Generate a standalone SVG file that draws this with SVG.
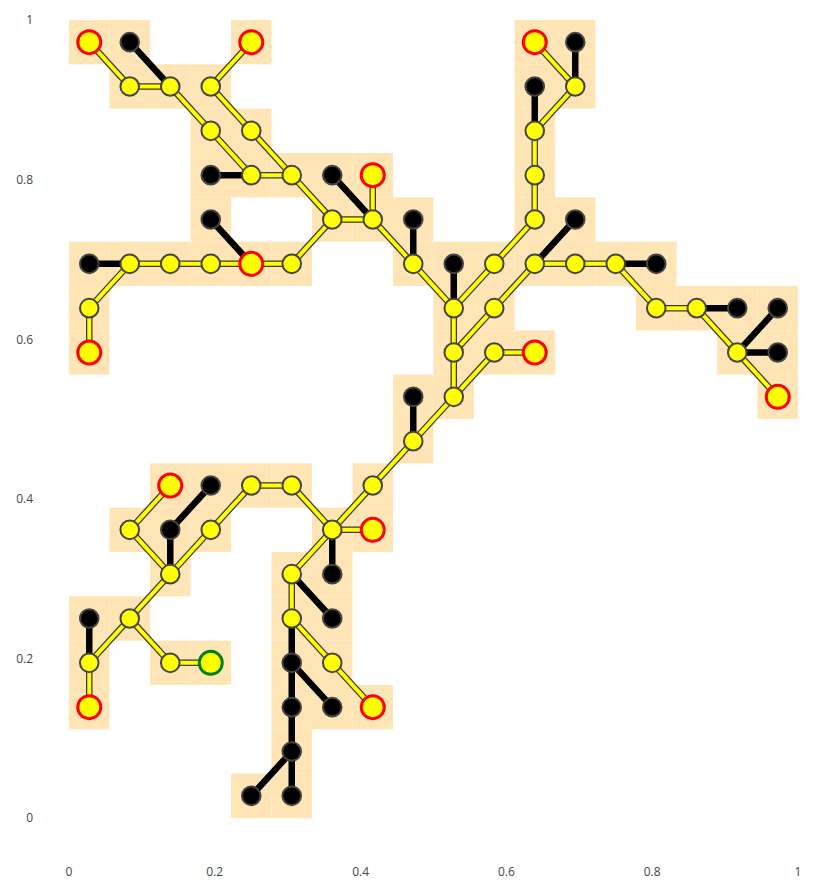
<svg xmlns="http://www.w3.org/2000/svg" xmlns:xlink="http://www.w3.org/1999/xlink" width="833" height="888" viewBox="0 0 833 888">
<style>
.tick{font-family:"Open Sans","Liberation Sans",sans-serif;font-size:12px;fill:#444}
.ye0{stroke:#3a3a2a;stroke-width:6.5;stroke-linecap:round;fill:none}
.ye1{stroke:#ffff00;stroke-width:4;stroke-linecap:round;fill:none}
.bk{stroke:#000;stroke-width:6.5;fill:none}
.y{fill:#ffff00;stroke:#444;stroke-width:2}
.b{fill:#000;stroke:#444;stroke-width:2}
.r{fill:#ffff00;stroke:#ff0000;stroke-width:3}
.g{fill:#ffff00;stroke:#008000;stroke-width:3}
</style>
<defs>
<rect id="t" width="40.5" height="44.34" fill="#ffe4b5"/>
<g id="yedges">
<path d="M89.25,42.17L129.75,86.5M129.75,86.5L170.25,86.5M251.25,42.17L210.75,86.5M170.25,86.5L210.75,130.83M210.75,86.5L251.25,130.83M210.75,130.83L251.25,175.17M251.25,130.83L291.75,175.17M251.25,175.17L291.75,175.17M291.75,175.17L332.25,219.5M332.25,219.5L372.75,219.5M372.75,175.17L372.75,219.5M332.25,219.5L291.75,263.83M251.25,263.83L291.75,263.83M129.75,263.83L170.25,263.83M170.25,263.83L210.75,263.83M210.75,263.83L251.25,263.83M129.75,263.83L89.25,308.17M89.25,308.17L89.25,352.5M372.75,219.5L413.25,263.83M413.25,263.83L453.75,308.17M453.75,308.17L494.25,263.83M494.25,263.83L534.75,219.5M534.75,219.5L534.75,175.17M534.75,175.17L534.75,130.83M534.75,130.83L575.25,86.5M575.25,86.5L534.75,42.17M453.75,308.17L453.75,352.5M453.75,352.5L494.25,308.17M494.25,308.17L534.75,263.83M534.75,263.83L575.25,263.83M575.25,263.83L615.75,263.83M615.75,263.83L656.25,308.17M656.25,308.17L696.75,308.17M696.75,308.17L737.25,352.5M737.25,352.5L777.75,396.83M453.75,352.5L453.75,396.83M453.75,396.83L494.25,352.5M494.25,352.5L534.75,352.5M453.75,396.83L413.25,441.17M413.25,441.17L372.75,485.5M372.75,485.5L332.25,529.83M332.25,529.83L372.75,529.83M332.25,529.83L291.75,485.5M291.75,485.5L251.25,485.5M251.25,485.5L210.75,529.83M210.75,529.83L170.25,574.17M170.25,574.17L129.75,529.83M129.75,529.83L170.25,485.5M170.25,574.17L129.75,618.5M129.75,618.5L89.25,662.83M89.25,662.83L89.25,707.17M129.75,618.5L170.25,662.83M170.25,662.83L210.75,662.83M332.25,529.83L291.75,574.17M291.75,574.17L291.75,618.5M291.75,618.5L332.25,662.83M332.25,662.83L372.75,707.17"/>
</g>
</defs>
<g id="tiles">
<use xlink:href="#t" x="69" y="20"/><use xlink:href="#t" x="109.5" y="20"/><use xlink:href="#t" x="231" y="20"/><use xlink:href="#t" x="514.5" y="20"/><use xlink:href="#t" x="555" y="20"/>
<use xlink:href="#t" x="109.5" y="64.33"/><use xlink:href="#t" x="150" y="64.33"/><use xlink:href="#t" x="190.5" y="64.33"/><use xlink:href="#t" x="514.5" y="64.33"/><use xlink:href="#t" x="555" y="64.33"/>
<use xlink:href="#t" x="190.5" y="108.67"/><use xlink:href="#t" x="231" y="108.67"/><use xlink:href="#t" x="514.5" y="108.67"/>
<use xlink:href="#t" x="190.5" y="153"/><use xlink:href="#t" x="231" y="153"/><use xlink:href="#t" x="271.5" y="153"/><use xlink:href="#t" x="312" y="153"/><use xlink:href="#t" x="352.5" y="153"/><use xlink:href="#t" x="514.5" y="153"/>
<use xlink:href="#t" x="190.5" y="197.33"/><use xlink:href="#t" x="312" y="197.33"/><use xlink:href="#t" x="352.5" y="197.33"/><use xlink:href="#t" x="393" y="197.33"/><use xlink:href="#t" x="514.5" y="197.33"/><use xlink:href="#t" x="555" y="197.33"/>
<use xlink:href="#t" x="69" y="241.67"/><use xlink:href="#t" x="109.5" y="241.67"/><use xlink:href="#t" x="150" y="241.67"/><use xlink:href="#t" x="190.5" y="241.67"/><use xlink:href="#t" x="231" y="241.67"/><use xlink:href="#t" x="271.5" y="241.67"/><use xlink:href="#t" x="393" y="241.67"/><use xlink:href="#t" x="433.5" y="241.67"/><use xlink:href="#t" x="474" y="241.67"/><use xlink:href="#t" x="514.5" y="241.67"/><use xlink:href="#t" x="555" y="241.67"/><use xlink:href="#t" x="595.5" y="241.67"/><use xlink:href="#t" x="636" y="241.67"/>
<use xlink:href="#t" x="69" y="286"/><use xlink:href="#t" x="433.5" y="286"/><use xlink:href="#t" x="474" y="286"/><use xlink:href="#t" x="636" y="286"/><use xlink:href="#t" x="676.5" y="286"/><use xlink:href="#t" x="717" y="286"/><use xlink:href="#t" x="757.5" y="286"/>
<use xlink:href="#t" x="69" y="330.33"/><use xlink:href="#t" x="433.5" y="330.33"/><use xlink:href="#t" x="474" y="330.33"/><use xlink:href="#t" x="514.5" y="330.33"/><use xlink:href="#t" x="717" y="330.33"/><use xlink:href="#t" x="757.5" y="330.33"/>
<use xlink:href="#t" x="393" y="374.67"/><use xlink:href="#t" x="433.5" y="374.67"/><use xlink:href="#t" x="757.5" y="374.67"/>
<use xlink:href="#t" x="393" y="419"/>
<use xlink:href="#t" x="150" y="463.33"/><use xlink:href="#t" x="190.5" y="463.33"/><use xlink:href="#t" x="231" y="463.33"/><use xlink:href="#t" x="271.5" y="463.33"/><use xlink:href="#t" x="352.5" y="463.33"/>
<use xlink:href="#t" x="109.5" y="507.67"/><use xlink:href="#t" x="150" y="507.67"/><use xlink:href="#t" x="190.5" y="507.67"/><use xlink:href="#t" x="312" y="507.67"/><use xlink:href="#t" x="352.5" y="507.67"/>
<use xlink:href="#t" x="150" y="552"/><use xlink:href="#t" x="271.5" y="552"/><use xlink:href="#t" x="312" y="552"/>
<use xlink:href="#t" x="69" y="596.33"/><use xlink:href="#t" x="109.5" y="596.33"/><use xlink:href="#t" x="271.5" y="596.33"/><use xlink:href="#t" x="312" y="596.33"/>
<use xlink:href="#t" x="69" y="640.67"/><use xlink:href="#t" x="150" y="640.67"/><use xlink:href="#t" x="190.5" y="640.67"/><use xlink:href="#t" x="271.5" y="640.67"/><use xlink:href="#t" x="312" y="640.67"/>
<use xlink:href="#t" x="69" y="685"/><use xlink:href="#t" x="271.5" y="685"/><use xlink:href="#t" x="312" y="685"/><use xlink:href="#t" x="352.5" y="685"/>
<use xlink:href="#t" x="271.5" y="729.33"/>
<use xlink:href="#t" x="231" y="773.67"/><use xlink:href="#t" x="271.5" y="773.67"/>
</g>
<g id="axes">
<text class="tick" x="69" y="876" text-anchor="middle">0</text>
<text class="tick" x="214.8" y="876" text-anchor="middle">0.2</text>
<text class="tick" x="360.6" y="876" text-anchor="middle">0.4</text>
<text class="tick" x="506.4" y="876" text-anchor="middle">0.6</text>
<text class="tick" x="652.2" y="876" text-anchor="middle">0.8</text>
<text class="tick" x="798" y="876" text-anchor="middle">1</text>
<text class="tick" x="33" y="822" text-anchor="end">0</text>
<text class="tick" x="33" y="663" text-anchor="end">0.2</text>
<text class="tick" x="33" y="503" text-anchor="end">0.4</text>
<text class="tick" x="33" y="344" text-anchor="end">0.6</text>
<text class="tick" x="33" y="184" text-anchor="end">0.8</text>
<text class="tick" x="33" y="24" text-anchor="end">1</text>
</g>
<g id="connectors">
<use xlink:href="#yedges" class="ye0"/>
<use xlink:href="#yedges" class="ye1"/>
<path class="bk" d="M129.75,42.17L170.25,86.5M210.75,175.17L251.25,175.17M210.75,219.5L251.25,263.83M332.25,175.17L372.75,219.5M89.25,263.83L129.75,263.83M413.25,219.5L413.25,263.83M453.75,263.83L453.75,308.17M534.75,130.83L534.75,86.5M575.25,86.5L575.25,42.17M534.75,263.83L575.25,219.5M615.75,263.83L656.25,263.83M696.75,308.17L737.25,308.17M737.25,352.5L777.75,308.17M737.25,352.5L777.75,352.5M413.25,396.83L413.25,441.17M170.25,574.17L170.25,529.83M170.25,529.83L210.75,485.5M89.25,618.5L89.25,662.83M332.25,529.83L332.25,574.17M291.75,574.17L332.25,618.5M291.75,618.5L291.75,662.83M291.75,662.83L332.25,707.17M291.75,662.83L291.75,707.17M291.75,707.17L291.75,751.5M291.75,751.5L251.25,795.83M291.75,751.5L291.75,795.83"/>
</g>
<g id="nodes">
<g id="n0_0"><circle class="r" cx="89.25" cy="42.17" r="11.5"/></g>
<g id="n1_0"><circle class="b" cx="129.75" cy="42.17" r="9.3"/></g>
<g id="n4_0"><circle class="r" cx="251.25" cy="42.17" r="11.5"/></g>
<g id="n11_0"><circle class="r" cx="534.75" cy="42.17" r="11.5"/></g>
<g id="n12_0"><circle class="b" cx="575.25" cy="42.17" r="9.3"/></g>
<g id="n1_1"><circle class="y" cx="129.75" cy="86.5" r="9.3"/></g>
<g id="n2_1"><circle class="y" cx="170.25" cy="86.5" r="9.3"/></g>
<g id="n3_1"><circle class="y" cx="210.75" cy="86.5" r="9.3"/></g>
<g id="n11_1"><circle class="b" cx="534.75" cy="86.5" r="9.3"/></g>
<g id="n12_1"><circle class="y" cx="575.25" cy="86.5" r="9.3"/></g>
<g id="n3_2"><circle class="y" cx="210.75" cy="130.83" r="9.3"/></g>
<g id="n4_2"><circle class="y" cx="251.25" cy="130.83" r="9.3"/></g>
<g id="n11_2"><circle class="y" cx="534.75" cy="130.83" r="9.3"/></g>
<g id="n3_3"><circle class="b" cx="210.75" cy="175.17" r="9.3"/></g>
<g id="n4_3"><circle class="y" cx="251.25" cy="175.17" r="9.3"/></g>
<g id="n5_3"><circle class="y" cx="291.75" cy="175.17" r="9.3"/></g>
<g id="n6_3"><circle class="b" cx="332.25" cy="175.17" r="9.3"/></g>
<g id="n7_3"><circle class="r" cx="372.75" cy="175.17" r="11.5"/></g>
<g id="n11_3"><circle class="y" cx="534.75" cy="175.17" r="9.3"/></g>
<g id="n3_4"><circle class="b" cx="210.75" cy="219.5" r="9.3"/></g>
<g id="n6_4"><circle class="y" cx="332.25" cy="219.5" r="9.3"/></g>
<g id="n7_4"><circle class="y" cx="372.75" cy="219.5" r="9.3"/></g>
<g id="n8_4"><circle class="b" cx="413.25" cy="219.5" r="9.3"/></g>
<g id="n11_4"><circle class="y" cx="534.75" cy="219.5" r="9.3"/></g>
<g id="n12_4"><circle class="b" cx="575.25" cy="219.5" r="9.3"/></g>
<g id="n0_5"><circle class="b" cx="89.25" cy="263.83" r="9.3"/></g>
<g id="n1_5"><circle class="y" cx="129.75" cy="263.83" r="9.3"/></g>
<g id="n2_5"><circle class="y" cx="170.25" cy="263.83" r="9.3"/></g>
<g id="n3_5"><circle class="y" cx="210.75" cy="263.83" r="9.3"/></g>
<g id="n4_5"><circle class="r" cx="251.25" cy="263.83" r="11.5"/></g>
<g id="n5_5"><circle class="y" cx="291.75" cy="263.83" r="9.3"/></g>
<g id="n8_5"><circle class="y" cx="413.25" cy="263.83" r="9.3"/></g>
<g id="n9_5"><circle class="b" cx="453.75" cy="263.83" r="9.3"/></g>
<g id="n10_5"><circle class="y" cx="494.25" cy="263.83" r="9.3"/></g>
<g id="n11_5"><circle class="y" cx="534.75" cy="263.83" r="9.3"/></g>
<g id="n12_5"><circle class="y" cx="575.25" cy="263.83" r="9.3"/></g>
<g id="n13_5"><circle class="y" cx="615.75" cy="263.83" r="9.3"/></g>
<g id="n14_5"><circle class="b" cx="656.25" cy="263.83" r="9.3"/></g>
<g id="n0_6"><circle class="y" cx="89.25" cy="308.17" r="9.3"/></g>
<g id="n9_6"><circle class="y" cx="453.75" cy="308.17" r="9.3"/></g>
<g id="n10_6"><circle class="y" cx="494.25" cy="308.17" r="9.3"/></g>
<g id="n14_6"><circle class="y" cx="656.25" cy="308.17" r="9.3"/></g>
<g id="n15_6"><circle class="y" cx="696.75" cy="308.17" r="9.3"/></g>
<g id="n16_6"><circle class="b" cx="737.25" cy="308.17" r="9.3"/></g>
<g id="n17_6"><circle class="b" cx="777.75" cy="308.17" r="9.3"/></g>
<g id="n0_7"><circle class="r" cx="89.25" cy="352.5" r="11.5"/></g>
<g id="n9_7"><circle class="y" cx="453.75" cy="352.5" r="9.3"/></g>
<g id="n10_7"><circle class="y" cx="494.25" cy="352.5" r="9.3"/></g>
<g id="n11_7"><circle class="r" cx="534.75" cy="352.5" r="11.5"/></g>
<g id="n16_7"><circle class="y" cx="737.25" cy="352.5" r="9.3"/></g>
<g id="n17_7"><circle class="b" cx="777.75" cy="352.5" r="9.3"/></g>
<g id="n8_8"><circle class="b" cx="413.25" cy="396.83" r="9.3"/></g>
<g id="n9_8"><circle class="y" cx="453.75" cy="396.83" r="9.3"/></g>
<g id="n17_8"><circle class="r" cx="777.75" cy="396.83" r="11.5"/></g>
<g id="n8_9"><circle class="y" cx="413.25" cy="441.17" r="9.3"/></g>
<g id="n2_10"><circle class="r" cx="170.25" cy="485.5" r="11.5"/></g>
<g id="n3_10"><circle class="b" cx="210.75" cy="485.5" r="9.3"/></g>
<g id="n4_10"><circle class="y" cx="251.25" cy="485.5" r="9.3"/></g>
<g id="n5_10"><circle class="y" cx="291.75" cy="485.5" r="9.3"/></g>
<g id="n7_10"><circle class="y" cx="372.75" cy="485.5" r="9.3"/></g>
<g id="n1_11"><circle class="y" cx="129.75" cy="529.83" r="9.3"/></g>
<g id="n2_11"><circle class="b" cx="170.25" cy="529.83" r="9.3"/></g>
<g id="n3_11"><circle class="y" cx="210.75" cy="529.83" r="9.3"/></g>
<g id="n6_11"><circle class="y" cx="332.25" cy="529.83" r="9.3"/></g>
<g id="n7_11"><circle class="r" cx="372.75" cy="529.83" r="11.5"/></g>
<g id="n2_12"><circle class="y" cx="170.25" cy="574.17" r="9.3"/></g>
<g id="n5_12"><circle class="y" cx="291.75" cy="574.17" r="9.3"/></g>
<g id="n6_12"><circle class="b" cx="332.25" cy="574.17" r="9.3"/></g>
<g id="n0_13"><circle class="b" cx="89.25" cy="618.5" r="9.3"/></g>
<g id="n1_13"><circle class="y" cx="129.75" cy="618.5" r="9.3"/></g>
<g id="n5_13"><circle class="y" cx="291.75" cy="618.5" r="9.3"/></g>
<g id="n6_13"><circle class="b" cx="332.25" cy="618.5" r="9.3"/></g>
<g id="n0_14"><circle class="y" cx="89.25" cy="662.83" r="9.3"/></g>
<g id="n2_14"><circle class="y" cx="170.25" cy="662.83" r="9.3"/></g>
<g id="n3_14"><circle class="g" cx="210.75" cy="662.83" r="11.5"/></g>
<g id="n5_14"><circle class="b" cx="291.75" cy="662.83" r="9.3"/></g>
<g id="n6_14"><circle class="y" cx="332.25" cy="662.83" r="9.3"/></g>
<g id="n0_15"><circle class="r" cx="89.25" cy="707.17" r="11.5"/></g>
<g id="n5_15"><circle class="b" cx="291.75" cy="707.17" r="9.3"/></g>
<g id="n6_15"><circle class="b" cx="332.25" cy="707.17" r="9.3"/></g>
<g id="n7_15"><circle class="r" cx="372.75" cy="707.17" r="11.5"/></g>
<g id="n5_16"><circle class="b" cx="291.75" cy="751.5" r="9.3"/></g>
<g id="n4_17"><circle class="b" cx="251.25" cy="795.83" r="9.3"/></g>
<g id="n5_17"><circle class="b" cx="291.75" cy="795.83" r="9.3"/></g>
</g>
</svg>
